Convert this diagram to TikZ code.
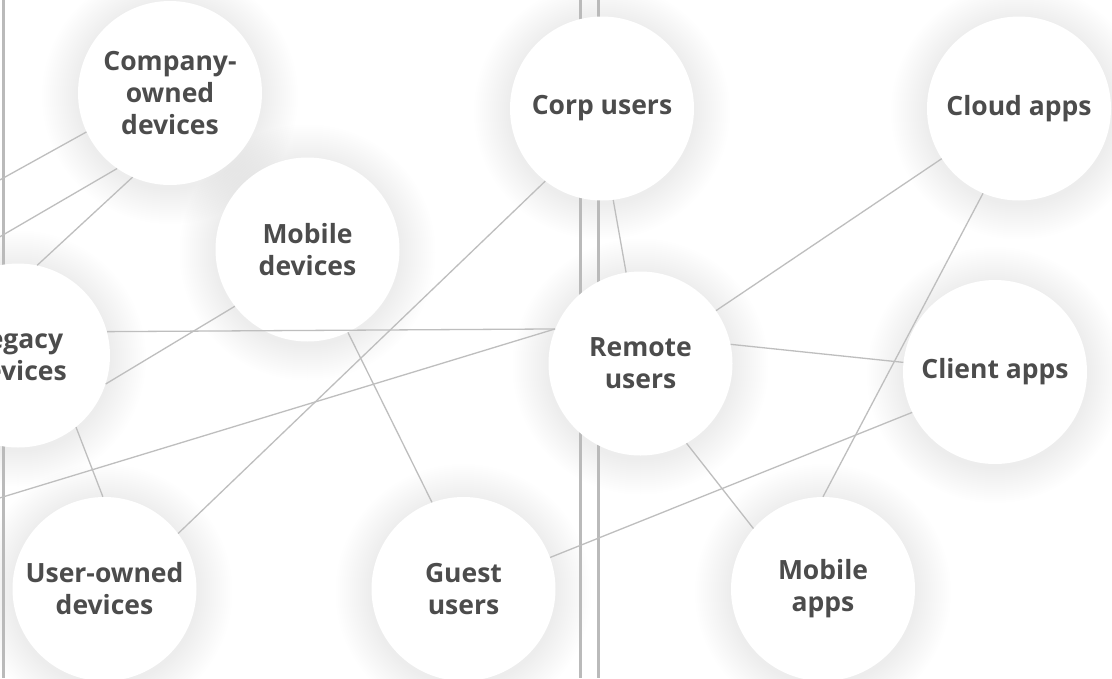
\documentclass[tikz,border=0pt]{standalone}
\usepackage{fontspec}
\newfontfamily\lblfont{Open Sans}
\usepackage{tikz}
\usetikzlibrary{backgrounds}
\definecolor{txt}{HTML}{4C4C4C}
\definecolor{lne}{HTML}{BEBEBE}
\definecolor{bar}{HTML}{BABABA}
\tikzset{c/.style={circle,fill=white,minimum size=184pt,inner sep=0pt,align=center,text=txt,font=\lblfont\bfseries\fontsize{26.5}{32}\selectfont}}
\tikzset{l/.style={draw=lne,line width=1.3pt}}
\tikzset{v/.style={draw=bar,line width=3pt}}

\begin{document}
\begin{tikzpicture}[x=1pt,y=-1pt]
  \useasboundingbox (0,0) rectangle (1112,678);
  \clip (0,0) rectangle (1112,678);
  % devices
  \node[c] (comp) at (170,93) {Company-\\owned\\devices};
  \node[c] (leg) at (18,355.5) {Legacy\\devices};
  \node[c] (uown) at (104.5,589) {User-owned\\devices};
  \node[c] (mdev) at (307.5,249.5) {Mobile\\devices};
  % users
  \node[c] (guest) at (463.5,589) {Guest\\users};
  \node[c] (corp) at (602,108.5) {Corp users};
  \node[c] (rem) at (640.5,363.5) {Remote\\users};
  % apps
  \node[c] (cloud) at (1019,108.5) {Cloud apps};
  \node[c] (client) at (995,372) {Client apps};
  \node[c] (mapps) at (823,589) {Mobile\\apps};
  % ends that leave the picture on the left
  \coordinate (w1) at (-40,202);
  \coordinate (w2) at (-40,260);
  \coordinate (w3) at (-40,510);
  \begin{scope}[on background layer]
    \fill[white] (0,0) rectangle (1112,678);
    \foreach \n in {comp,leg,uown,mdev,guest,corp,rem,cloud,client,mapps}
      \foreach \k in {1,...,18}
        \fill[black,opacity=.0045] ([yshift=-3pt]\n.center) circle [radius={(92+2*\k)*1pt}];
    \draw[v] (3,0) -- (3,678);
    \draw[v] (580,0) -- (580,678);
    \draw[v] (598,0) -- (598,678);
  \end{scope}
  \draw[l] (comp.205) -- (w1);
  \draw[l] (comp.235) -- (w2);
  \draw[l] (comp.246) -- (leg.78);
  \draw[l] (leg.15) -- (rem.158);
  \draw[l] (mdev.218) -- (leg.342);
  \draw[l] (leg.309) -- (uown.91);
  \draw[l] (rem.158) -- (w3);
  \draw[l] (uown.37) -- (corp.232);
  \draw[l] (mdev.296) -- (guest.110);
  \draw[l] (guest.20) -- (client.206);
  \draw[l] (corp.277) -- (rem.99);
  \draw[l] (rem.35) -- (cloud.213);
  \draw[l] (rem.12) -- (client.174);
  \draw[l] (rem.300) -- (mapps.139);
  \draw[l] (cloud.247) -- (mapps.90);
\end{tikzpicture}
\end{document}
